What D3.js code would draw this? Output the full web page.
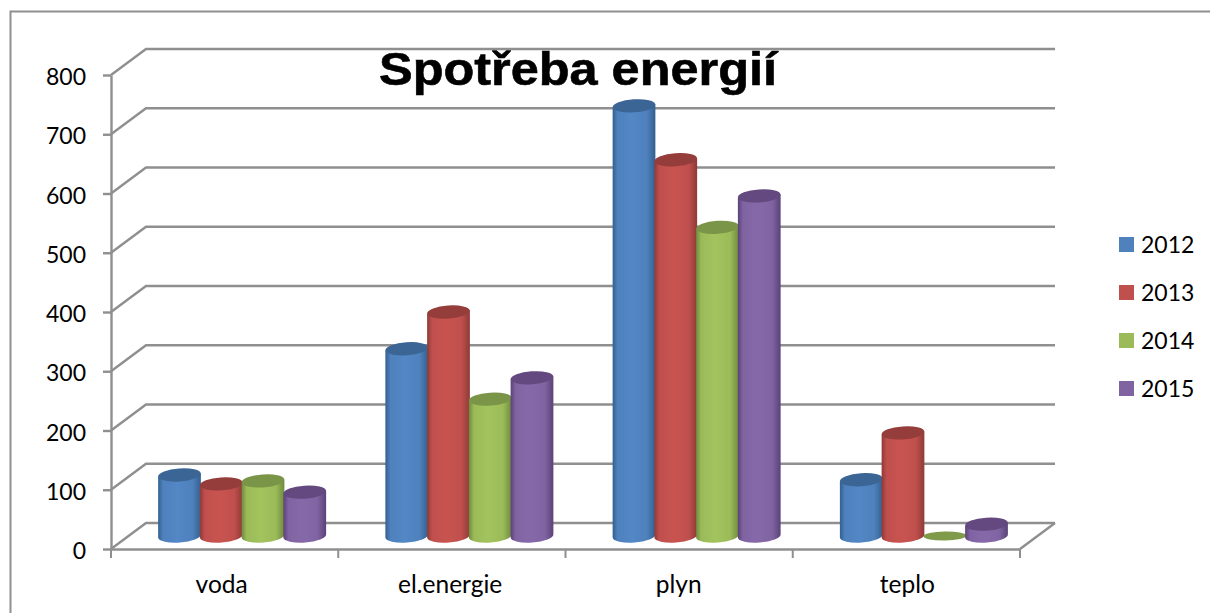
<!DOCTYPE html>
<html><head><meta charset="utf-8">
<script src="https://cdn.jsdelivr.net/npm/d3@7"></script>
<style>html,body{margin:0;padding:0;background:#fff}svg{display:block}
text{font-family:Lato,"Open Sans",sans-serif;fill:#000}</style></head>
<body><svg id="c" width="1210" height="613"></svg>
<script>
const categories = ["voda","el.energie","plyn","teplo"];
const years = ["2012","2013","2014","2015"];
const colors = ["#4f81bd","#c0504d","#9bbb59","#8064a2"];
const tops = ["#3a6595","#943c3a","#7a9546","#63497f"];
const darks = ["#33608f","#8f3a37","#6f8a3e","#5a4278"];
const v2012 = [103,316,726,95];
const v2013 = [88,378,635,174];
const v2014 = [93,231,521,0];
const v2015 = [74,267,574,20];
const series = [v2012,v2013,v2014,v2015];
const yTicks = [0,100,200,300,400,500,600,700,800];
const title = "Spotřeba energií";

const svg = d3.select("#c");
const grey = "#8f8f8f";
const dx = 35, dy = -26;
const x = d3.scaleBand().domain(categories).range([111,1020]);
const y = d3.scaleLinear().domain([0,800]).range([549,75]);
const inner = d3.scaleBand().domain(years).range([-83.5,83.5]);
const rx = inner.bandwidth()/2 + 0.5, ry = 6.5, tilt = -4;
const slope = rx*Math.sin(-tilt*Math.PI/180);

// frame
svg.append("path").attr("d","M1210,11.5H10.5V613").attr("fill","none").attr("stroke",grey).attr("stroke-width",2);

// defs
const defs = svg.append("defs");
defs.append("filter").attr("id","soft").append("feGaussianBlur").attr("stdDeviation",0.55);
years.forEach((yr,i)=>{
  const g = defs.append("linearGradient").attr("id","g"+yr);
  [[0,darks[i]],[.12,colors[i]],[.45,d3.color(colors[i]).brighter(.12)],[.8,colors[i]],[1,darks[i]]]
   .forEach(s=>g.append("stop").attr("offset",s[0]).attr("stop-color",s[1]));
});

// walls and floor
const walls = svg.append("g").attr("fill","none").attr("stroke",grey).attr("stroke-width",2.4);
yTicks.forEach(t=>{
  walls.append("path").attr("d",d3.line()([[111,y(t)],[111+dx,y(t)+dy],[1020+dx,y(t)+dy]]));
});
walls.append("path").attr("d",d3.line()([[1020,y(0)],[1020+dx,y(0)+dy]]));

// axes
const yAxis = svg.append("g").attr("transform","translate(111,0)")
  .call(d3.axisLeft(y).tickValues(yTicks).tickSize(8).tickPadding(17).tickSizeOuter(0));
const xAxis = svg.append("g").attr("transform","translate(0,549)")
  .call(d3.axisBottom(x).tickSize(0).tickPadding(27));
[yAxis,xAxis].forEach(a=>{
  a.selectAll("path,line").attr("stroke",grey).attr("stroke-width",2.4);
  a.selectAll("text").attr("font-size",23).attr("font-family","Lato,sans-serif").attr("fill","#000");
});
yAxis.selectAll("text").attr("dy","0.42em");
xAxis.selectAll("text").attr("font-size",24.5).attr("dx",(d,i)=>-3+i*1.3);
const xTicks = x.domain().map(c=>x(c)).concat([x.range()[1]]);
svg.append("g").selectAll("line").data(xTicks).join("line")
  .attr("x1",d=>d).attr("x2",d=>d).attr("y1",549).attr("y2",558)
  .attr("stroke",grey).attr("stroke-width",2);

// cylinders
const bars = svg.append("g").attr("filter","url(#soft)");
categories.forEach((c,ci)=>{
  const cx0 = x(c)+x.bandwidth()/2+dx/2;
  years.forEach((yr,si)=>{
    const val = series[si][ci];
    const cx = cx0+inner(yr)+inner.bandwidth()/2;
    const base = y(0)+dy/2;
    const top = y(val)+dy/2;
    const g = bars.append("g");
    if(val>0){
      g.append("path").attr("fill",`url(#g${yr})`)
       .attr("d",`M${cx-rx},${top+slope}V${base+slope}A${rx},${ry} ${tilt} 0 0 ${cx+rx},${base-slope}V${top-slope}Z`);
    }
    g.append("ellipse").attr("cx",0).attr("cy",0).attr("rx",rx).attr("ry",val>0?ry:4.5)
     .attr("transform",`translate(${cx},${top}) rotate(${val>0?tilt:-1})`)
     .attr("fill",val>0?tops[si]:"#7f9a49");
  });
});

// title
svg.append("text").attr("x",578).attr("y",85).attr("text-anchor","middle")
  .attr("textLength",398).attr("lengthAdjust","spacingAndGlyphs")
  .attr("filter","url(#soft)")
  .style("font-family","'Liberation Sans',Arial,sans-serif").style("font-weight","bold")
  .attr("font-size",46).attr("stroke","#000").attr("stroke-width",.6).text(title);

// legend
const leg = svg.append("g").selectAll("g").data(years).join("g")
  .attr("transform",(d,i)=>`translate(1119,${237+i*48})`);
leg.append("rect").attr("width",15).attr("height",15).attr("fill",(d,i)=>colors[i]);
leg.append("text").attr("x",22).attr("y",16).attr("font-size",23).text(d=>d);
</script></body></html>
